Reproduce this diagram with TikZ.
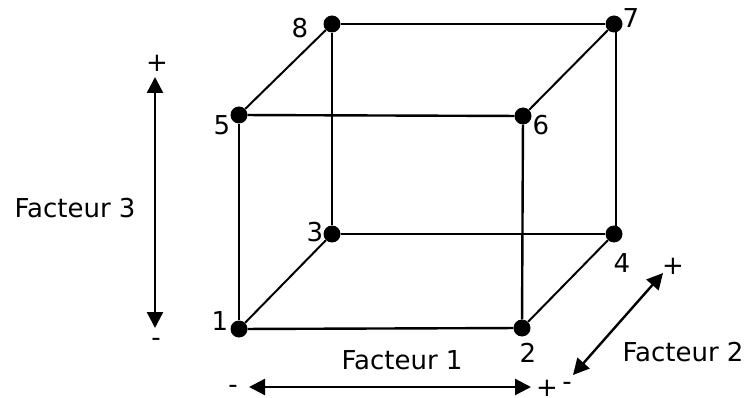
\documentclass[tikz,border=0pt]{standalone}
\usepackage{fontspec}
\setmainfont{DejaVu Sans}
\usetikzlibrary{arrows.meta}
\tikzset{
    sommet/.style={circle, fill=black, draw=none, inner sep=0pt, minimum size=17pt},
    arete/.style={line width=2.4pt},
    diagonale/.style={line width=2pt},
    fleche/.style={line width=2.4pt, {Triangle[length=16pt,width=16pt]}-{Triangle[length=16pt,width=16pt]}},
    texte/.style={inner sep=0pt, font=\fontsize{26}{30}\selectfont}
}

\begin{document}
\begin{tikzpicture}[x=1pt,y=-1pt]
    \useasboundingbox (0,0) rectangle (747,398);
    \node[sommet] (s1) at (239,329) {};
    \node[sommet] (s2) at (522,328) {};
    \node[sommet] (s3) at (332,234) {};
    \node[sommet] (s4) at (614,234) {};
    \node[sommet] (s5) at (239,115) {};
    \node[sommet] (s6) at (523,116) {};
    \node[sommet] (s7) at (614,24) {};
    \node[sommet] (s8) at (332,24) {};
    \draw[arete] (s1) -- (s2);
    \draw[arete] (s3) -- (s4);
    \draw[arete] (s5) -- (s6);
    \draw[arete] (s8) -- (s7);
    \draw[arete] (s1) -- (s5);
    \draw[arete] (s2) -- (s6);
    \draw[arete] (s3) -- (s8);
    \draw[arete] ([xshift=2pt]s4.center) -- ([xshift=2pt]s7.center);
    \draw[diagonale] (s1) -- (s3);
    \draw[diagonale] (s2) -- (s4);
    \draw[diagonale] (s5) -- (s8);
    \draw[diagonale] (s6) -- (s7);
    \node[texte] (n1) at (220,321) {1};
    \node[texte] (n2) at (528,353) {2};
    \node[texte] (n3) at (315,232) {3};
    \node[texte] (n4) at (622,263) {4};
    \node[texte] (n5) at (222,125) {5};
    \node[texte] (n6) at (541,125) {6};
    \node[texte] (n7) at (631,18) {7};
    \node[texte] (n8) at (300,28) {8};
    % facteurs
    \node[texte] (f1) at (402,360) {Facteur 1};
    \node[texte] (f2) at (683,352) {Facteur 2};
    \node[texte] (f3) at (75,208) {Facteur 3};
    \node[texte] (p1) at (547,388) {+};
    \node[texte] (m1) at (233,389) {-};
    \node[texte] (p2) at (673,266) {+};
    \node[texte] (m2) at (567,386) {-};
    \node[texte] (p3) at (157,63) {+};
    \node[texte] (m3) at (156,342) {-};
    \coordinate (a1) at (249,387);
    \coordinate (b1) at (531,387);
    \coordinate (a2) at (573,375);
    \coordinate (b2) at (663,273);
    \coordinate (a3) at (155,328);
    \coordinate (b3) at (155,77);
    \draw[fleche] (a1) -- (b1);
    \draw[fleche] (a2) -- (b2);
    \draw[fleche] (a3) -- (b3);
\end{tikzpicture}
\end{document}
